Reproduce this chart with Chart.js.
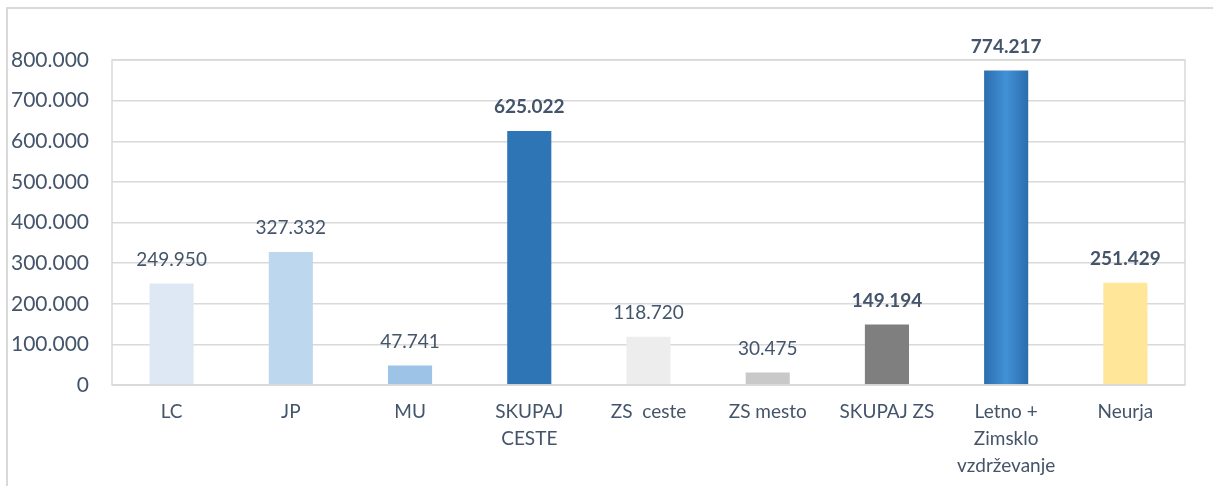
<!DOCTYPE html>
<html>
<head>
<meta charset="utf-8">
<script src="https://cdn.jsdelivr.net/npm/chart.js@4/dist/chart.umd.min.js"></script>
<style>
  html, body { margin: 0; padding: 0; background: #ffffff; overflow: hidden; }
  #wrap { position: relative; width: 1213px; height: 486px; }
  #frame { position: absolute; left: 6px; top: 7px; width: 1400px; height: 700px; border: 2px solid #d9d9d9; box-sizing: border-box; }
  canvas { position: absolute; left: 0; top: 0; }
</style>
</head>
<body>
<div id="wrap">
  <div id="frame"></div>
  <canvas id="c" width="1213" height="486"></canvas>
</div>
<script>
const categories = ["LC", "JP", "MU", ["SKUPAJ", "CESTE"], "ZS  ceste", "ZS mesto", "SKUPAJ ZS", ["Letno +", "Zimsklo", "vzdrževanje"], "Neurja"];
const values = [249950, 327332, 47741, 625022, 118720, 30475, 149194, 774217, 251429];
const boldLabels = [false, false, false, true, false, false, true, true, true];
const barColors = ["#dde8f4", "#bdd7ee", "#9dc3e6", "#2e75b6", "#ededed", "#c9c9c9", "#7f7f7f", "#2e75b6", "#ffe699"];
const gradientIndex = 7;
const yMax = 800000;
const yStep = 100000;

const textColor = "#44546a";
const gridColor = "#d9d9d9";
const fontFamily = "Lato, 'Open Sans', sans-serif";

function fmt(v) {
  return String(v).replace(/\B(?=(\d{3})+(?!\d))/g, ".");
}

function barFill(ctx) {
  const i = ctx.dataIndex;
  if (i !== gradientIndex) return barColors[i];
  const chart = ctx.chart;
  const xs = chart.scales && chart.scales.x;
  if (!xs || !chart.chartArea) return barColors[i];
  const cx = xs.getPixelForValue(i);
  const w = xs.width / categories.length * 0.37;
  const g = chart.ctx.createLinearGradient(cx - w / 2, 0, cx + w / 2, 0);
  g.addColorStop(0, "#2b6dad");
  g.addColorStop(0.5, "#4291d6");
  g.addColorStop(1, "#2b6dad");
  return g;
}

const frameBox = {
  id: "frameBox",
  beforeDatasetsDraw(chart) {
    const a = chart.chartArea;
    const c = chart.ctx;
    c.save();
    c.strokeStyle = gridColor;
    c.lineWidth = 1.5;
    c.strokeRect(a.left, a.top, a.right - a.left, a.bottom - a.top);
    c.restore();
  },
  afterDatasetsDraw(chart) {
    const a = chart.chartArea;
    const c = chart.ctx;
    c.save();
    c.strokeStyle = gridColor;
    c.lineWidth = 1.5;
    c.beginPath();
    c.moveTo(a.left, a.bottom);
    c.lineTo(a.right, a.bottom);
    c.stroke();
    c.restore();
  }
};

const valueLabels = {
  id: "valueLabels",
  afterDatasetsDraw(chart) {
    const meta = chart.getDatasetMeta(0);
    const c = chart.ctx;
    c.save();
    c.fillStyle = textColor;
    c.textAlign = "center";
    c.textBaseline = "middle";
    meta.data.forEach((bar, i) => {
      c.font = (boldLabels[i] ? "bold " : "") + "19px " + fontFamily;
      c.fillText(fmt(values[i]), bar.x, bar.y - 24);
    });
    c.restore();
  }
};

new Chart(document.getElementById("c"), {
  type: "bar",
  data: {
    labels: categories,
    datasets: [{
      data: values,
      backgroundColor: barFill,
      borderWidth: 0,
      barPercentage: 0.37,
      categoryPercentage: 1
    }]
  },
  options: {
    responsive: false,
    animation: false,
    devicePixelRatio: 1,
    layout: { padding: { top: 60, right: 28, bottom: 0, left: 0 } },
    plugins: {
      legend: { display: false },
      tooltip: { enabled: false }
    },
    scales: {
      x: {
        grid: { display: false, drawTicks: false },
        border: { display: false },
        ticks: {
          color: textColor,
          font: { family: fontFamily, size: 19, lineHeight: 1.42 },
          padding: 13,
          maxRotation: 0,
          autoSkip: false
        },
        afterFit(scale) { scale.height = 101; }
      },
      y: {
        min: 0,
        max: yMax,
        grid: { color: gridColor, lineWidth: 1.5, drawTicks: false },
        border: { display: false },
        ticks: {
          stepSize: yStep,
          color: textColor,
          font: { family: fontFamily, size: 21 },
          padding: 23,
          callback: v => fmt(v)
        },
        afterFit(scale) { scale.width = 112; }
      }
    }
  },
  plugins: [frameBox, valueLabels]
});
</script>
</body>
</html>
